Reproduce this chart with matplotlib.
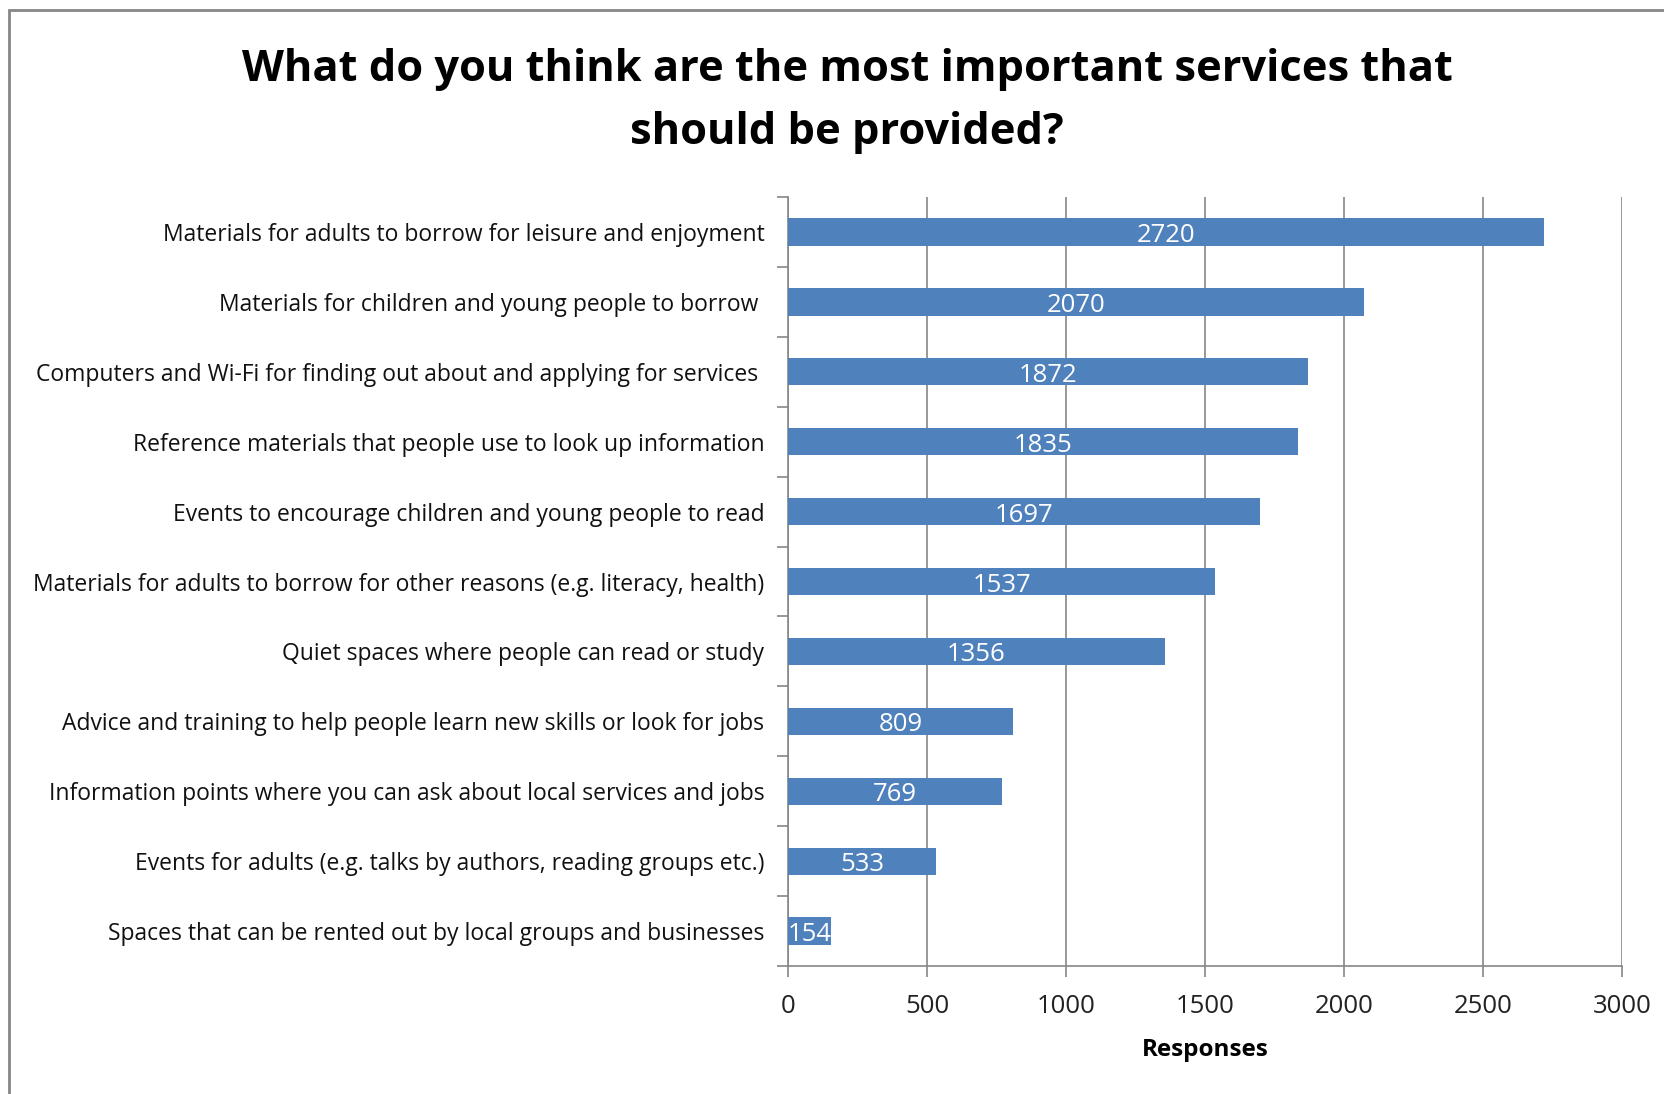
import numpy as np
import matplotlib.pyplot as plt
from matplotlib.patches import Rectangle

plt.rcParams['font.family'] = ['Open Sans', 'DejaVu Sans']

services = [
    "Materials for adults to borrow for leisure and enjoyment",
    "Materials for children and young people to borrow ",
    "Computers and Wi-Fi for finding out about and applying for services ",
    "Reference materials that people use to look up information",
    "Events to encourage children and young people to read",
    "Materials for adults to borrow for other reasons (e.g. literacy, health)",
    "Quiet spaces where people can read or study",
    "Advice and training to help people learn new skills or look for jobs",
    "Information points where you can ask about local services and jobs",
    "Events for adults (e.g. talks by authors, reading groups etc.)",
    "Spaces that can be rented out by local groups and businesses",
]
responses = [2720, 2070, 1872, 1835, 1697, 1537, 1356, 809, 769, 533, 154]
xticks = [0, 500, 1000, 1500, 2000, 2500, 3000]

grey = '#868686'
blue = '#4F81BD'

fig = plt.figure(figsize=(16.64, 10.94), dpi=100)
ax = fig.add_axes([0.4736, 0.117, 0.5012, 0.7029])

# outer frame (only left/top visible in the original crop)
fig.patches.append(Rectangle((9 / 1664, -0.1), 1.2, 1 - 10 / 1094 + 0.1,
                             transform=fig.transFigure, fill=False,
                             edgecolor=grey, linewidth=2))

y = np.arange(len(services))
ax.barh(y, responses, height=0.39, color=blue, zorder=3)
for yi, v in zip(y, responses):
    ax.text(v / 2, yi + 0.05, str(v), ha='center', va='center',
            color='white', fontsize=18.5, zorder=4)

ax.set_ylim(len(services) - 0.5, -0.5)
ax.set_xlim(0, 3000)
ax.set_xticks(xticks)
ax.set_xticklabels([str(t) for t in xticks], fontsize=18.5, color='#222222')
ax.set_yticks(y)
ax.set_yticklabels(services, fontsize=16.5, color='#111111')
ax.set_yticks(np.arange(-0.5, len(services), 1), minor=True)
ax.tick_params(axis='y', which='major', length=0, pad=17)
ax.tick_params(axis='y', which='minor', length=8, color=grey, width=1.2)
ax.tick_params(axis='x', length=8, color=grey, width=1.2, pad=12)

ax.grid(axis='x', color=grey, linewidth=1.2, zorder=0)
for s in ['top', 'right']:
    ax.spines[s].set_visible(False)
for s in ['left', 'bottom']:
    ax.spines[s].set_color(grey)
    ax.spines[s].set_linewidth(1.2)

ax.set_xlabel('Responses', fontsize=17.5, fontweight='bold', labelpad=14)

fig.suptitle('What do you think are the most important services that\nshould be provided?',
             x=0.509, y=0.956, fontsize=31.2, fontweight='bold', linespacing=1.6)

fig.savefig('out.png', dpi=100)
